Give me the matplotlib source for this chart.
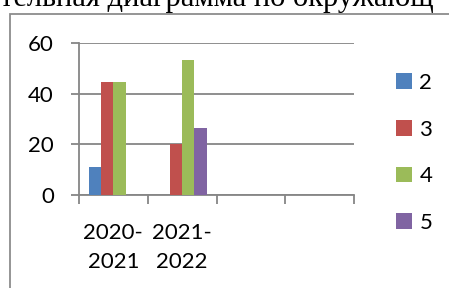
import matplotlib
matplotlib.use("Agg")
import matplotlib.pyplot as plt
from matplotlib.patches import Rectangle

title_text = "тельная диаграмма по окружающ"
categories = ["2020-\n2021", "2021-\n2022", "", ""]
series_names = ["2", "3", "4", "5"]
values = [
    [11, 0, 0, 0],
    [44.5, 20, 0, 0],
    [44.5, 53.3, 0, 0],
    [0, 26.5, 0, 0],
]
colors = ["#4f81bd", "#c0504d", "#9bbb59", "#8064a2"]
yticks = [0, 20, 40, 60]

W, H = 449, 288
plt.rcParams["font.family"] = ["Lato", "DejaVu Sans"]
grid_color = "#868686"
fs = 16

fig = plt.figure(figsize=(W / 100, H / 100), dpi=100)

# chart border (runs off the right and bottom of the crop)
fig.patches.append(Rectangle((10 / W, -0.1), 1.0, (H - 14) / H + 0.1,
                             transform=fig.transFigure, fill=False,
                             edgecolor="#8c8c8c", linewidth=1.3))

fig.text(0, 1 - 6 / H, title_text, family=["Liberation Serif"],
         fontsize=22, ha="left", va="baseline")

ax = fig.add_axes([79 / W, 93 / H, (354 - 79) / W, 151.7 / H])
ax.set_ylim(0, 60)
ax.set_xlim(-0.5, len(categories) - 0.5)

bw = 0.178
x = list(range(len(categories)))
for i, (name, vals) in enumerate(zip(series_names, values)):
    pos = [c + (i - 1.5) * bw for c in x]
    ax.bar(pos, vals, width=bw, color=colors[i], label=name, zorder=3)

ax.set_yticks(yticks)
ax.yaxis.grid(True, color=grid_color, linewidth=1.3)
ax.set_axisbelow(True)
ax.tick_params(axis="y", length=6, width=1.3, color=grid_color, pad=12,
               labelsize=fs)
ax.set_xticks([c - 0.5 for c in x] + [len(categories) - 0.5])
ax.set_xticklabels([])
ax.set_xticks(x, minor=True)
ax.set_xticklabels(categories, minor=True, linespacing=1.55)
ax.tick_params(axis="x", which="major", length=6.5, width=1.3, color=grid_color)
ax.tick_params(axis="x", which="minor", length=0, pad=20, labelsize=fs)

for s in ["top", "right"]:
    ax.spines[s].set_visible(False)
for s in ["left", "bottom"]:
    ax.spines[s].set_color(grid_color)
    ax.spines[s].set_linewidth(1.3)

fig.legend(loc="upper left", bbox_to_anchor=(396 / W, 1 - 73 / H),
           frameon=False, fontsize=fs, handlelength=0.7, handleheight=0.7,
           handletextpad=0.35, labelspacing=1.2, borderpad=0, borderaxespad=0)

fig.savefig("out.png", dpi=100)
